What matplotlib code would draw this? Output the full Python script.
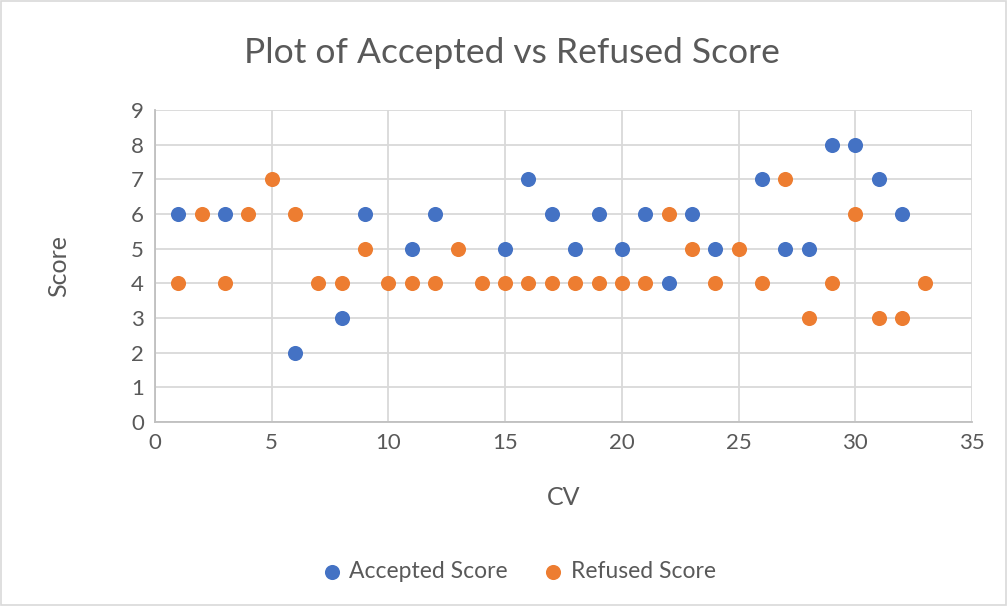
import matplotlib
matplotlib.use("Agg")
import matplotlib.pyplot as plt
from matplotlib.patches import Rectangle

accepted_cv = [1, 3, 6, 8, 9, 11, 12, 15, 16, 17, 18, 19, 20, 21, 22, 23,
               24, 26, 27, 28, 29, 30, 31, 32]
accepted_score = [6, 6, 2, 3, 6, 5, 6, 5, 7, 6, 5, 6, 5, 6, 4, 6,
                  5, 7, 5, 5, 8, 8, 7, 6]
refused_cv = list(range(1, 34))
refused_score = [4, 6, 4, 6, 7, 6, 4, 4, 5, 4, 4, 4, 5, 4, 4, 4, 4,
                 4, 4, 4, 4, 6, 5, 4, 5, 4, 7, 3, 4, 6, 3, 3, 4]

plt.rcParams['font.family'] = ['Lato', 'DejaVu Sans']
grey = '#595959'
fig = plt.figure(figsize=(10.08, 6.06), dpi=100)
ax = fig.add_axes([155/1008, 1-422/606, (972-155)/1008, (422-110)/606])

ax.scatter(accepted_cv, accepted_score, s=118, color='#4472C4', label='Accepted Score', zorder=3, linewidths=0)
ax.scatter(refused_cv, refused_score, s=118, color='#ED7D31', label='Refused Score', zorder=4, linewidths=0)

ax.set_xlim(0, 35)
ax.set_ylim(0, 9)
ax.set_xticks(range(0, 36, 5))
ax.set_yticks(range(0, 10))
ax.grid(True, color='#d9d9d9', linewidth=1.3, zorder=0)
for s in ['top', 'right']:
    ax.spines[s].set_visible(False)
for s in ['left', 'bottom']:
    ax.spines[s].set_color('#bfbfbf')
    ax.spines[s].set_linewidth(1.3)
ax.tick_params(length=0, labelsize=16, labelcolor=grey, pad=8)

ax.set_xlabel('CV', fontsize=18, color=grey, labelpad=24)
ax.set_ylabel('Score', fontsize=18, color=grey, labelpad=44)
fig.text(0.508, 0.913, 'Plot of Accepted vs Refused Score', ha='center', va='center',
         fontsize=25.5, color=grey)

leg = fig.legend(loc='center', bbox_to_anchor=(0.515, 0.057), ncol=2, frameon=False,
                 fontsize=16.5, labelcolor=grey, handlelength=0.8, handletextpad=0.35,
                 columnspacing=1.6, markerscale=1.0)

fig.patches.append(Rectangle((0.001, 0.002), 0.997, 0.996, transform=fig.transFigure,
                             fill=False, edgecolor='#d9d9d9', linewidth=1.2))
fig.savefig('out.png', dpi=100)
